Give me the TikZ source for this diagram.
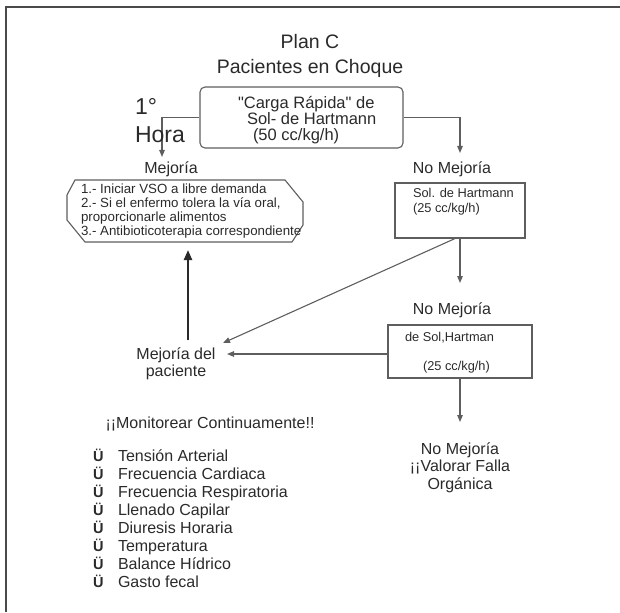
\documentclass[tikz,border=0pt]{standalone}
\usepackage{fontspec}
\setmainfont{Liberation Sans}
\newfontfamily\plainq{Liberation Sans}
\usetikzlibrary{arrows.meta}
\definecolor{ink}{HTML}{2A2A2A}
\definecolor{lin}{HTML}{5E5E5E}
\tikzset{
  txt/.style={text=ink, inner sep=0pt, outer sep=0pt},
  f16/.style={font=\fontsize{16}{17}\selectfont},
  boxline/.style={draw=lin, line width=1.1pt},
  ln/.style={draw=lin, line width=1.1pt},
  arr/.style={ln, -{Triangle[length=7pt,width=5.5pt]}},
  thickarr/.style={draw=ink, line width=2.2pt, -{Triangle[length=10pt,width=8pt]}},
}
\begin{document}
\begin{tikzpicture}[x=1pt,y=-1pt]
\useasboundingbox (0,0) rectangle (620,612);
% frame
\draw[draw=ink!85, line width=1.7pt] (6,612) -- (6,7) -- (620,7);
% connector endpoints
\coordinate (c1) at (162,157);
\coordinate (c2) at (460,153);
\coordinate (c3) at (460,283);
\coordinate (c4) at (460,422);
\coordinate (c5) at (223,343);
\coordinate (c6) at (227,354);
\coordinate (c8) at (188,250);
% title
\node[txt, anchor=north, align=center, font=\fontsize{19.5}{25}\selectfont] (title) at (310,34) {Plan C\\Pacientes en Choque};
% top box
\node[boxline, rounded corners=5pt, minimum width=203pt, minimum height=61pt, inner sep=0pt] (topbox) at (301.5,117.5) {};
\draw[arr] (topbox.west) -| (c1);
\draw[arr] (topbox.east) -| (c2);
% 1 Hora
\node[txt, anchor=north west, align=left, font=\fontsize{23}{28}\selectfont] (hora) at (135,98.5) {1°\\Hora};
\node[txt, anchor=north west, align=left, font=\fontsize{16.5}{16}\selectfont] (toptxt) at (238,96) {{\plainq"}Carga Rápida{\plainq"} de\\\hspace*{9pt}Sol- de Hartmann\\\hspace*{15pt}(50 cc/kg/h)};
% labels
\node[txt, f16, anchor=base] (mej1) at (171,174) {Mejoría};
\node[txt, f16, anchor=base] (nomej1) at (452,174) {No Mejoría};
% octagon box
\draw[boxline] (75,180) -- (285,180) -- (303,202) -- (303,225) -- (292,242) -- (85,242) -- (67,220) -- (67,195) -- cycle;
\node[txt, anchor=north west, align=left, font=\fontsize{13.3}{14}\selectfont] (mejtxt) at (81,183.5) {1.- Iniciar VSO a libre demanda\\2.- Si el enfermo tolera la vía oral,\\proporcionarle alimentos\\3.- Antibioticoterapia correspondiente};
% box 1
\node[boxline, minimum width=130pt, minimum height=55pt, inner sep=0pt] (b1) at (460,210.5) {};
\node[txt, anchor=north west, align=left, font=\fontsize{12.8}{15}\selectfont] (b1txt) at (413,188.5) {Sol. de Hartmann\\(25 cc/kg/h)};
\node[txt, f16, anchor=base] (nomej2) at (452,314) {No Mejoría};
% box 2
\node[boxline, minimum width=144pt, minimum height=53pt, inner sep=0pt] (b2) at (460,351.5) {};
\node[txt, anchor=north west, align=left, font=\fontsize{12.8}{29}\selectfont] (b2txt) at (405,332.5) {de Sol,Hartman\\\hspace*{18pt}(25 cc/kg/h)};
% final
\node[txt, anchor=north, align=center, font=\fontsize{16}{17.5}\selectfont] (fin) at (460,442.3) {No Mejoría\\¡¡Valorar Falla\\Orgánica};
% mejoria del paciente
\node[txt, anchor=north, align=center, font=\fontsize{16}{17}\selectfont] (mp) at (176,347.3) {Mejoría del\\paciente};
% monitor
\node[txt, f16, anchor=base] (mon) at (210,428) {¡¡Monitorear Continuamente!!};
\node[txt, anchor=north west, align=left, font=\fontsize{16}{18}\selectfont] (list) at (93,449.5) {%
\makebox[25pt][l]{\fontsize{14.5}{18}\selectfont\bfseries Ü}Tensión Arterial\\
\makebox[25pt][l]{\fontsize{14.5}{18}\selectfont\bfseries Ü}Frecuencia Cardiaca\\
\makebox[25pt][l]{\fontsize{14.5}{18}\selectfont\bfseries Ü}Frecuencia Respiratoria\\
\makebox[25pt][l]{\fontsize{14.5}{18}\selectfont\bfseries Ü}Llenado Capilar\\
\makebox[25pt][l]{\fontsize{14.5}{18}\selectfont\bfseries Ü}Diuresis Horaria\\
\makebox[25pt][l]{\fontsize{14.5}{18}\selectfont\bfseries Ü}Temperatura\\
\makebox[25pt][l]{\fontsize{14.5}{18}\selectfont\bfseries Ü}Balance Hídrico\\
\makebox[25pt][l]{\fontsize{14.5}{18}\selectfont\bfseries Ü}Gasto fecal};
% connectors
\draw[arr] (b1.south) -- (c3);
\draw[arr] (b2.south) -- (c4);
\draw[arr] ([xshift=-5pt]b1.south) -- (c5);
\draw[arr] (b2.west |- c6) -- (c6);
\draw[thickarr] ([yshift=7pt]mp.north -| c8) -- (c8);
\end{tikzpicture}
\end{document}
